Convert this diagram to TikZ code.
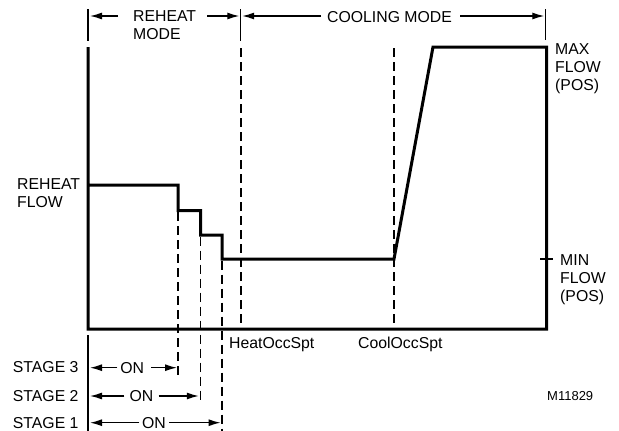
\documentclass[tikz,border=0pt]{standalone}
\usepackage{fontspec}
\setmainfont{Liberation Sans}
\usetikzlibrary{arrows.meta}
\begin{document}
\begin{tikzpicture}[x=1pt,y=-1pt,
  thickline/.style={line width=3pt, line join=miter},
  thinline/.style={line width=1.2pt},
  dashline/.style={line width=1.2pt, dash pattern=on 9pt off 5pt},
  arr/.style={line width=1.3pt,-{Latex[length=12pt,width=7pt]}},
  lbl/.style={font=\fontsize{15.8}{18}\selectfont, inner sep=0pt, align=left},
  small/.style={font=\fontsize{13}{15}\selectfont, inner sep=0pt},
]
\useasboundingbox (0,0) rectangle (619,431);

% main curve corners
\coordinate (tl) at (88,47);
\coordinate (bl) at (88,329);
\coordinate (br) at (546.5,329);
\coordinate (tr) at (546.5,47);
\coordinate (mx) at (433,47);
\coordinate (co) at (394,259);
\coordinate (s1) at (222,259);
\coordinate (s1t) at (222,235);
\coordinate (s2) at (200.5,235);
\coordinate (s2t) at (200.5,210.5);
\coordinate (s3) at (178,210.5);
\coordinate (s3t) at (178,185);
\coordinate (rh) at (88,185);

\draw[thickline] (tl) -- (bl) -- (br) -- (tr) -- (mx) -- (co) -- (s1) -- (s1t)
  -- (s2) -- (s2t) -- (s3) -- (s3t) -- (rh);

% top ticks
\coordinate (tk1a) at (88,9);     \coordinate (tk1b) at (88,41);
\coordinate (tk2a) at (240.7,9);  \coordinate (tk2b) at (240.7,41);
\coordinate (tk3a) at (545.7,9);  \coordinate (tk3b) at (545.7,40);
\draw[thinline] (tk1a) -- (tk1b);
\draw[thinline] (tk2a) -- (tk2b);
\draw[thinline] (tk3a) -- (tk3b);

% mode arrows
\coordinate (ra1) at (118,16);  \coordinate (ra1t) at (90,16);
\coordinate (ra2) at (207,16);  \coordinate (ra2t) at (239.3,16);
\coordinate (ca1) at (321,16);  \coordinate (ca1t) at (242.2,16);
\coordinate (ca2) at (460,16);  \coordinate (ca2t) at (544.3,16);
\draw[arr] (ra1) -- (ra1t);
\draw[arr] (ra2) -- (ra2t);
\draw[arr] (ca1) -- (ca1t);
\draw[arr] (ca2) -- (ca2t);

\node[lbl, anchor=north west] (reheatmode) at (133,10.8) {REHEAT\\MODE};
\node[lbl, anchor=north west] (coolmode) at (327,10.8) {COOLING MODE};

% dashed setpoint lines
\coordinate (ho1) at (241,48);  \coordinate (ho2) at (241,326);
\coordinate (cs1) at (394,48);  \coordinate (cs2) at (394,326);
\draw[dashline] (ho1) -- (ho2);
\draw[dashline] (cs1) -- (cs2);

% stage dashed lines
\coordinate (d3a) at (178,212);   \coordinate (d3b) at (178,377);
\coordinate (d2a) at (200.5,236.5); \coordinate (d2b) at (200.5,403);
\coordinate (d1a) at (222,260.5); \coordinate (d1b) at (222,431);
\draw[dashline] (d3a) -- (d3b);
\draw[dashline] (d2a) -- (d2b);
\draw[dashline] (d1a) -- (d1b);

% min flow tick
\coordinate (mt1) at (540,259); \coordinate (mt2) at (553,259);
\draw[thinline] (mt1) -- (mt2);

% bottom-left thin line
\coordinate (bv1) at (88,335); \coordinate (bv2) at (88,431);
\draw[thinline] (bv1) -- (bv2);

% side labels
\node[lbl, anchor=north west] (maxflow) at (555,43) {MAX\\FLOW\\(POS)};
\node[lbl, anchor=north west] (minflow) at (560,254) {MIN\\FLOW\\(POS)};
\node[lbl, anchor=north west] (reheatflow) at (17,178) {REHEAT\\FLOW};

\node[lbl, anchor=base west] (heatocc) at (229,348) {HeatOccSpt};
\node[lbl, anchor=base west] (coolocc) at (358,348) {CoolOccSpt};

% stages
\node[lbl, anchor=base west] (st3) at (12.7,372.7) {STAGE 3};
\node[lbl, anchor=base west] (st2) at (12.7,401.7) {STAGE 2};
\node[lbl, anchor=base west] (st1) at (12.7,428.7) {STAGE 1};

\node[lbl] (on3) at (132.3,367.7) {ON};
\node[lbl] (on2) at (141.5,396) {ON};
\node[lbl] (on1) at (154,422.7) {ON};

\coordinate (a3l) at (90,367.7);  \coordinate (a3r) at (177,367.7);
\coordinate (a2l) at (90,396);    \coordinate (a2r) at (198.8,396);
\coordinate (a1l) at (90,422.7);  \coordinate (a1r) at (220.6,422.7);
\draw[arr] ([xshift=-3pt]on3.west) -- (a3l);
\draw[arr] ([xshift=7pt]on3.east) -- (a3r);
\draw[arr] ([xshift=-5pt]on2.west) -- (a2l);
\draw[arr] ([xshift=5pt]on2.east) -- (a2r);
\draw[arr] ([xshift=-2.5pt]on1.west) -- (a1l);
\draw[arr] ([xshift=3pt]on1.east) -- (a1r);

\node[small, anchor=base west] (mnum) at (547,400) {M11829};
\end{tikzpicture}
\end{document}
